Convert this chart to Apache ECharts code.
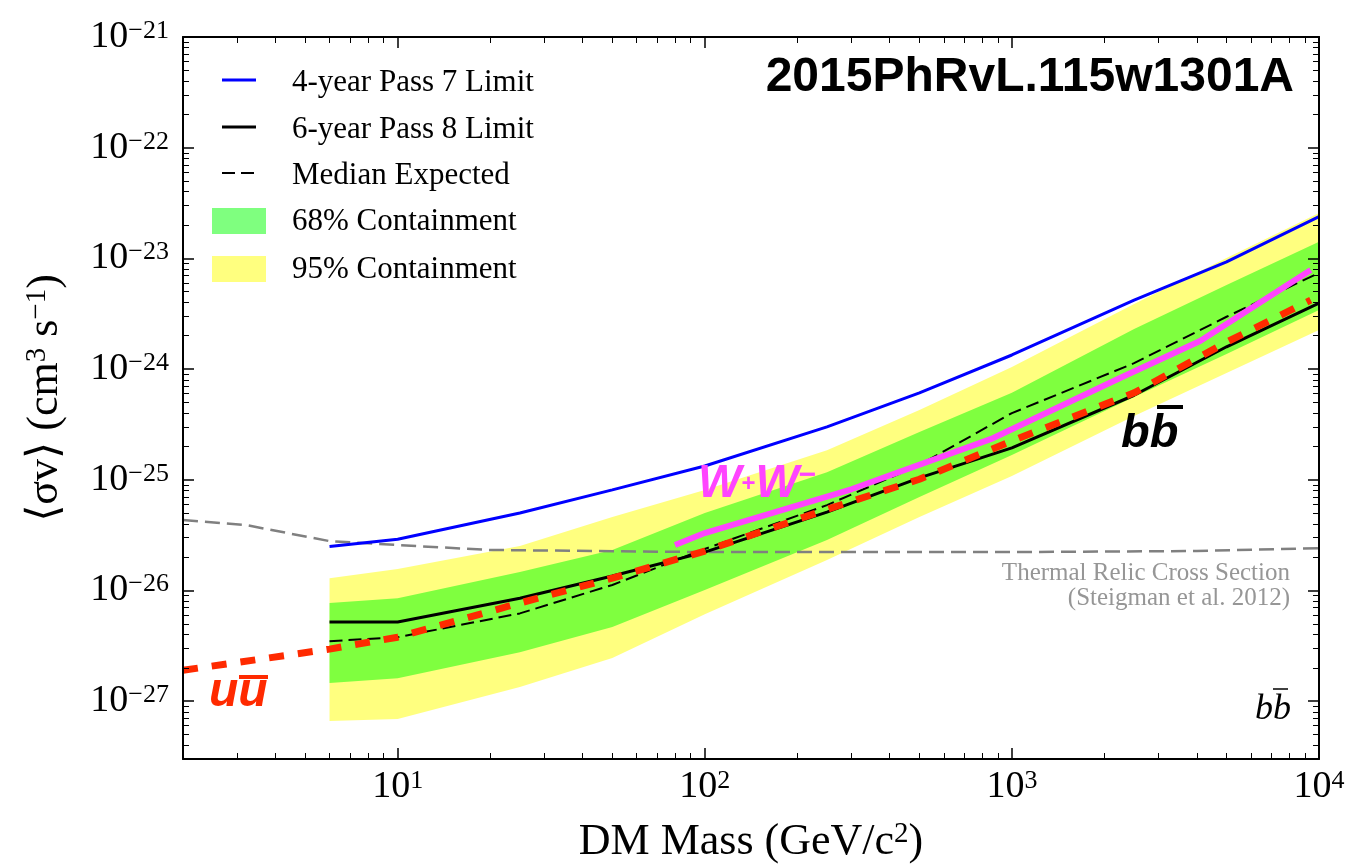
<!DOCTYPE html>
<html>
<head>
<meta charset="utf-8">
<script src="https://cdn.jsdelivr.net/npm/echarts@6/dist/echarts.min.js"></script>
<style>
  html, body { margin: 0; padding: 0; background: #fff; }
  #chart { width: 1347px; height: 866px; }
</style>
</head>
<body>
<div id="chart"></div>
<script>
// Dark-matter masses (GeV/c^2) at which the b-bbar limits and bands are given
const massGrid = [6, 10, 25, 50, 100, 250, 500, 1000, 2500, 5000, 10000];
// <sigma v> upper limits, cm^3 s^-1
const pass7Limit = [2.5e-26, 2.9e-26, 5.0e-26, 8.1e-26, 1.33e-25, 3.0e-25, 6.1e-25, 1.34e-24, 4.2e-24, 9.3e-24, 2.38e-23];
const pass8Limit = [5.18e-27, 5.18e-27, 8.5e-27, 1.35e-26, 2.22e-26, 5.1e-26, 1.04e-25, 1.94e-25, 5.8e-25, 1.59e-24, 3.95e-24];
const medianExpected = [3.48e-27, 3.78e-27, 6.2e-27, 1.12e-26, 2.37e-26, 5.9e-26, 1.36e-25, 4.0e-25, 1.13e-24, 2.97e-24, 7.4e-24];
const band68Low = [1.46e-27, 1.61e-27, 2.77e-27, 4.67e-27, 1.01e-26, 2.85e-26, 6.98e-26, 1.67e-25, 5.6e-25, 1.37e-24, 3.42e-24];
const band68High = [7.7e-27, 8.5e-27, 1.47e-26, 2.32e-26, 5.0e-26, 1.17e-25, 2.70e-25, 6.1e-25, 2.30e-24, 5.75e-24, 1.41e-23];
const band95Low = [6.6e-28, 6.9e-28, 1.34e-27, 2.45e-27, 6.1e-27, 1.88e-26, 4.6e-26, 1.08e-25, 3.77e-25, 9.2e-25, 2.25e-24];
const band95High = [1.29e-26, 1.56e-26, 2.52e-26, 4.6e-26, 8.1e-26, 1.85e-25, 4.27e-25, 1.045e-24, 3.87e-24, 1.01e-23, 2.57e-23];

// W+W- channel limit
const wwMass = [80, 100, 300, 870, 2250, 4100, 9400];
const wwLimit = [2.57e-26, 3.3e-26, 8.2e-26, 2.38e-25, 8.3e-25, 1.79e-24, 7.85e-24];

// u-ubar channel limit
const uuMass = [2, 6, 10, 25, 50, 100, 250, 500, 1000, 2500, 5000, 9400];
const uuLimit = [1.9e-27, 2.95e-27, 3.78e-27, 7.7e-27, 1.29e-26, 2.27e-26, 5.4e-26, 1.01e-25, 2.24e-25, 6.1e-25, 1.75e-24, 4.2e-24];

// Thermal relic cross section (Steigman et al. 2012)
const relicMass = [2, 3.2, 6, 10, 20, 100, 1000, 4000, 10000];
const relicXsec = [4.33e-26, 3.9e-26, 2.79e-26, 2.57e-26, 2.32e-26, 2.22e-26, 2.22e-26, 2.27e-26, 2.41e-26];

// Decade exponents carrying labelled ticks
const xDecades = [1, 2, 3, 4];
const yDecades = [-27, -26, -25, -24, -23, -22, -21];

const lg = Math.log10;
const X_MIN = lg(2), X_MAX = 4;
const Y_MIN = lg(3e-28), Y_MAX = -21;

const serif = '"Liberation Serif", "DejaVu Serif", serif';
const sans = '"Liberation Sans", Arial, sans-serif';

// minor ticks at 2..9 x 10^d, expressed in log10 units
function minorTicks(lo, hi, d0, d1) {
  const out = [];
  for (let d = d0; d <= d1; d++) {
    for (let k = 2; k <= 9; k++) {
      const v = d + lg(k);
      if (v > lo + 1e-9 && v < hi - 1e-9) out.push(v);
    }
  }
  return out;
}
const xMinor = minorTicks(X_MIN, X_MAX, 0, 3);
const yMinor = minorTicks(Y_MIN, Y_MAX, -28, -22);

const toXY = (xs, ys) => xs.map((m, i) => [lg(m), lg(ys[i])]);

const powerRich = {
  b: { fontFamily: serif, fontSize: 38, color: '#000' },
  s: { fontFamily: serif, fontSize: 26, color: '#000', verticalAlign: 'top' }
};
const nameRich = {
  a: { fontFamily: serif, fontSize: 44, color: '#000' },
  s: { fontFamily: serif, fontSize: 29, color: '#000', verticalAlign: 'top' }
};

function makeAxis(dim, position, gridIndex, ticks, len, width, withLine, extra) {
  const ax = {
    type: 'value',
    gridIndex: gridIndex,
    position: position,
    min: dim === 'x' ? X_MIN : Y_MIN,
    max: dim === 'x' ? X_MAX : Y_MAX,
    z: 5,
    axisLine: { show: withLine, onZero: false, lineStyle: { color: '#000', width: 2 } },
    axisTick: { show: true, inside: true, length: len, customValues: ticks, lineStyle: { color: '#000', width: width } },
    axisLabel: { show: false },
    splitLine: { show: false },
    minorTick: { show: false },
    minorSplitLine: { show: false }
  };
  return Object.assign(ax, extra || {});
}

function lineSeries(data, color, width, type) {
  return {
    type: 'line',
    data: data,
    symbol: 'none',
    silent: true,
    smooth: false,
    lineStyle: { color: color, width: width, type: type, cap: 'butt' },
    z: 2
  };
}

// filled containment band between a low and a high curve
function bandSeries(lo, hi, fill) {
  const rows = massGrid.map((m, i) => [lg(m), lg(lo[i]), lg(hi[i])]);
  return {
    type: 'custom',
    data: rows,
    silent: true,
    encode: { x: 0, y: [1, 2] },
    renderItem: function (params, api) {
      if (params.dataIndex !== 0) return null;
      const top = rows.map(r => api.coord([r[0], r[2]]));
      const bot = rows.map(r => api.coord([r[0], r[1]])).reverse();
      return {
        type: 'polygon',
        shape: { points: top.concat(bot) },
        style: { fill: fill, stroke: null }
      };
    },
    z: 2
  };
}

const gridBox = { left: 183, top: 37, right: 28, bottom: 107, containLabel: false, outerBoundsMode: 'none' };

const legendFont = { fontFamily: serif, fontSize: 31, fill: '#000', verticalAlign: 'middle' };
const annoZ = 50;

const option = {
  animation: false,
  backgroundColor: '#fff',
  grid: [Object.assign({}, gridBox), Object.assign({}, gridBox)],
  xAxis: [
    makeAxis('x', 'bottom', 0, xDecades, 11, 1.5, true, {
      axisLabel: {
        show: true, customValues: xDecades, margin: 9,
        formatter: v => '{b|10}{s|' + Math.round(v) + '}',
        rich: powerRich
      },
      name: '{a|DM Mass (GeV/c}{s|2}{a|)}',
      nameLocation: 'middle',
      nameGap: 61,
      nameTextStyle: { rich: nameRich }
    }),
    makeAxis('x', 'top', 0, xDecades, 11, 1.5, true),
    makeAxis('x', 'bottom', 1, xMinor, 6, 1, false),
    makeAxis('x', 'top', 1, xMinor, 6, 1, false)
  ],
  yAxis: [
    makeAxis('y', 'left', 0, yDecades, 11, 1.5, true, {
      axisLabel: {
        show: true, customValues: yDecades, margin: 14,
        formatter: v => '{b|10}{s|\u2212' + Math.round(-v) + '}',
        rich: powerRich
      },
      name: '{a|\u27e8\u03c3v\u27e9 (cm}{s|3}{a| s}{s|\u22121}{a|)}',
      nameLocation: 'middle',
      nameRotate: 90,
      nameGap: 116,
      nameTextStyle: { rich: nameRich }
    }),
    makeAxis('y', 'right', 0, yDecades, 11, 1.5, true),
    makeAxis('y', 'left', 1, yMinor, 6, 1, false),
    makeAxis('y', 'right', 1, yMinor, 6, 1, false)
  ],
  series: [
    lineSeries(toXY(relicMass, relicXsec), '#808080', 2.5, [15, 7]),
    bandSeries(band95Low, band95High, 'rgba(255,255,0,0.5)'),
    bandSeries(band68Low, band68High, 'rgba(0,255,0,0.5)'),
    lineSeries(toXY(massGrid, medianExpected), '#000', 2, [13, 6]),
    lineSeries(toXY(massGrid, pass8Limit), '#000', 3, 'solid'),
    lineSeries(toXY(massGrid, pass7Limit), '#0000ff', 3, 'solid'),
    lineSeries(toXY(uuMass, uuLimit), '#ff2a00', 7, [15, 14]),
    lineSeries(toXY(wwMass, wwLimit), '#ff44ff', 6, 'solid')
  ],
  graphic: [
    // legend handles
    { type: 'line', z: annoZ, shape: { x1: 222, y1: 80, x2: 256, y2: 80 }, style: { stroke: '#0000ff', lineWidth: 3 } },
    { type: 'line', z: annoZ, shape: { x1: 222, y1: 127, x2: 256, y2: 127 }, style: { stroke: '#000', lineWidth: 3 } },
    { type: 'line', z: annoZ, shape: { x1: 222, y1: 173, x2: 256, y2: 173 }, style: { stroke: '#000', lineWidth: 2, lineDash: [13, 6] } },
    { type: 'rect', z: annoZ, shape: { x: 212, y: 208, width: 54, height: 26 }, style: { fill: 'rgba(0,255,0,0.5)' } },
    { type: 'rect', z: annoZ, shape: { x: 212, y: 256, width: 54, height: 26 }, style: { fill: 'rgba(255,255,0,0.5)' } },
    // legend labels
    { type: 'text', z: annoZ, x: 292, y: 83, style: Object.assign({ text: '4-year Pass 7 Limit' }, legendFont) },
    { type: 'text', z: annoZ, x: 292, y: 130, style: Object.assign({ text: '6-year Pass 8 Limit' }, legendFont) },
    { type: 'text', z: annoZ, x: 292, y: 176, style: Object.assign({ text: 'Median Expected' }, legendFont) },
    { type: 'text', z: annoZ, x: 292, y: 222, style: Object.assign({ text: '68% Containment' }, legendFont) },
    { type: 'text', z: annoZ, x: 292, y: 270, style: Object.assign({ text: '95% Containment' }, legendFont) },
    // bibcode tag
    { type: 'text', z: annoZ, x: 1294, y: 78, style: { text: '2015PhRvL.115w1301A', fontFamily: sans, fontWeight: 'bold', fontSize: 48, fill: '#000', align: 'right', verticalAlign: 'middle' } },
    // channel annotations
    { type: 'text', z: annoZ, x: 1121, y: 434, style: { text: 'bb', fontFamily: sans, fontWeight: 'bold', fontStyle: 'italic', fontSize: 47, fill: '#000', verticalAlign: 'middle' } },
    { type: 'line', z: annoZ, shape: { x1: 1157, y1: 407, x2: 1183, y2: 407 }, style: { stroke: '#000', lineWidth: 4 } },
    { type: 'text', z: annoZ, x: 209, y: 693, style: { text: 'uu', fontFamily: sans, fontWeight: 'bold', fontStyle: 'italic', fontSize: 48, fill: '#ff2a00', verticalAlign: 'middle' } },
    { type: 'line', z: annoZ, shape: { x1: 239, y1: 677, x2: 268, y2: 677 }, style: { stroke: '#ff2a00', lineWidth: 4 } },
    { type: 'text', z: annoZ, x: 698, y: 484, style: {
        text: '{w|W}{p|+}{w|W}{q|\u2212}',
        verticalAlign: 'middle',
        rich: {
          w: { fontFamily: sans, fontWeight: 'bold', fontStyle: 'italic', fontSize: 46, fill: '#ff44ff' },
          p: { fontFamily: sans, fontWeight: 'bold', fontSize: 24, fill: '#ff44ff', verticalAlign: 'middle' },
          q: { fontFamily: sans, fontWeight: 'bold', fontSize: 30, fill: '#ff44ff', verticalAlign: 'top' }
        }
      } },
    // thermal relic note
    { type: 'text', z: annoZ, x: 1290, y: 573, style: { text: 'Thermal Relic Cross Section', fontFamily: serif, fontSize: 25, fill: '#969696', align: 'right', verticalAlign: 'middle' } },
    { type: 'text', z: annoZ, x: 1290, y: 598, style: { text: '(Steigman et al. 2012)', fontFamily: serif, fontSize: 25, fill: '#969696', align: 'right', verticalAlign: 'middle' } },
    // channel tag in the corner
    { type: 'text', z: annoZ, x: 1255, y: 710, style: { text: 'bb', fontFamily: serif, fontStyle: 'italic', fontSize: 36, fill: '#000', verticalAlign: 'middle' } },
    { type: 'line', z: annoZ, shape: { x1: 1273, y1: 689, x2: 1288, y2: 689 }, style: { stroke: '#000', lineWidth: 1.5 } }
  ]
};

const chart = echarts.init(document.getElementById('chart'), null, { renderer: 'canvas' });
chart.setOption(option);
</script>
</body>
</html>
